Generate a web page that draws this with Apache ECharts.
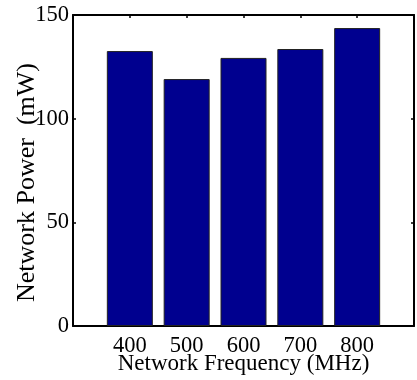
<!DOCTYPE html>
<html><head><meta charset="utf-8">
<script src="https://cdn.jsdelivr.net/npm/echarts@6/dist/echarts.min.js"></script>
<style>html,body{margin:0;padding:0;background:#fff}#c{width:417px;height:380px}</style>
</head><body><div id="c"></div>
<script>
const frequencies = [400, 500, 600, 700, 800];
const power = [132.6, 119.1, 129.3, 133.6, 143.7];
const yTicks = [0, 50, 100, 150];
const xLabels = ['400', '500', '600', '700', '800'];

const font = 'Liberation Serif';
const fs = 22.5;
const lineStyle = { color: '#000', width: 2 };
const tick = { show: true, inside: true, length: 3, lineStyle: { color: '#000', width: 1.5 } };
const chart = echarts.init(document.getElementById('c'));
chart.setOption({
  animation: false,
  grid: { left: 73, right: 3, top: 15, bottom: 54, containLabel: false, outerBoundsMode: 'none' },
  xAxis: [{
    type: 'value', min: 300, max: 900, interval: 100,
    name: 'Network Frequency (MHz)', nameLocation: 'middle', nameGap: 26, nameMoveOverlap: false,
    nameTextStyle: { fontFamily: font, fontSize: 23, color: '#000' },
    axisLine: { show: true, onZero: false, lineStyle },
    axisTick: tick,
    axisLabel: { fontFamily: font, fontSize: fs, color: '#000', margin: 9,
      formatter: v => xLabels.includes(String(v)) ? String(v) : '' },
    splitLine: { show: false }
  }, {
    type: 'value', position: 'top', min: 300, max: 900, interval: 100,
    axisLine: { show: true, onZero: false, lineStyle },
    axisTick: tick,
    axisLabel: { show: false }, splitLine: { show: false }
  }],
  yAxis: [{
    type: 'value', min: yTicks[0], max: yTicks[yTicks.length - 1], interval: 50,
    name: 'Network Power  (mW)', nameLocation: 'middle', nameGap: 33, nameMoveOverlap: false,
    nameTextStyle: { fontFamily: font, fontSize: 26, color: '#000', padding: [0, 24, 0, 0] },
    axisLine: { show: true, onZero: false, lineStyle },
    axisTick: tick,
    axisLabel: { fontFamily: font, fontSize: fs, color: '#000', margin: 4 },
    splitLine: { show: false }
  }, {
    type: 'value', position: 'right', min: 0, max: 150, interval: 50,
    axisLine: { show: true, onZero: false, lineStyle },
    axisTick: tick,
    axisLabel: { show: false }, splitLine: { show: false }
  }],
  series: [{
    type: 'bar', xAxisIndex: 0, yAxisIndex: 0,
    data: frequencies.map((f, i) => [f, power[i]]),
    barWidth: 46,
    itemStyle: { color: '#00008F', borderColor: '#222', borderWidth: 1 }
  }]
});
</script></body></html>
